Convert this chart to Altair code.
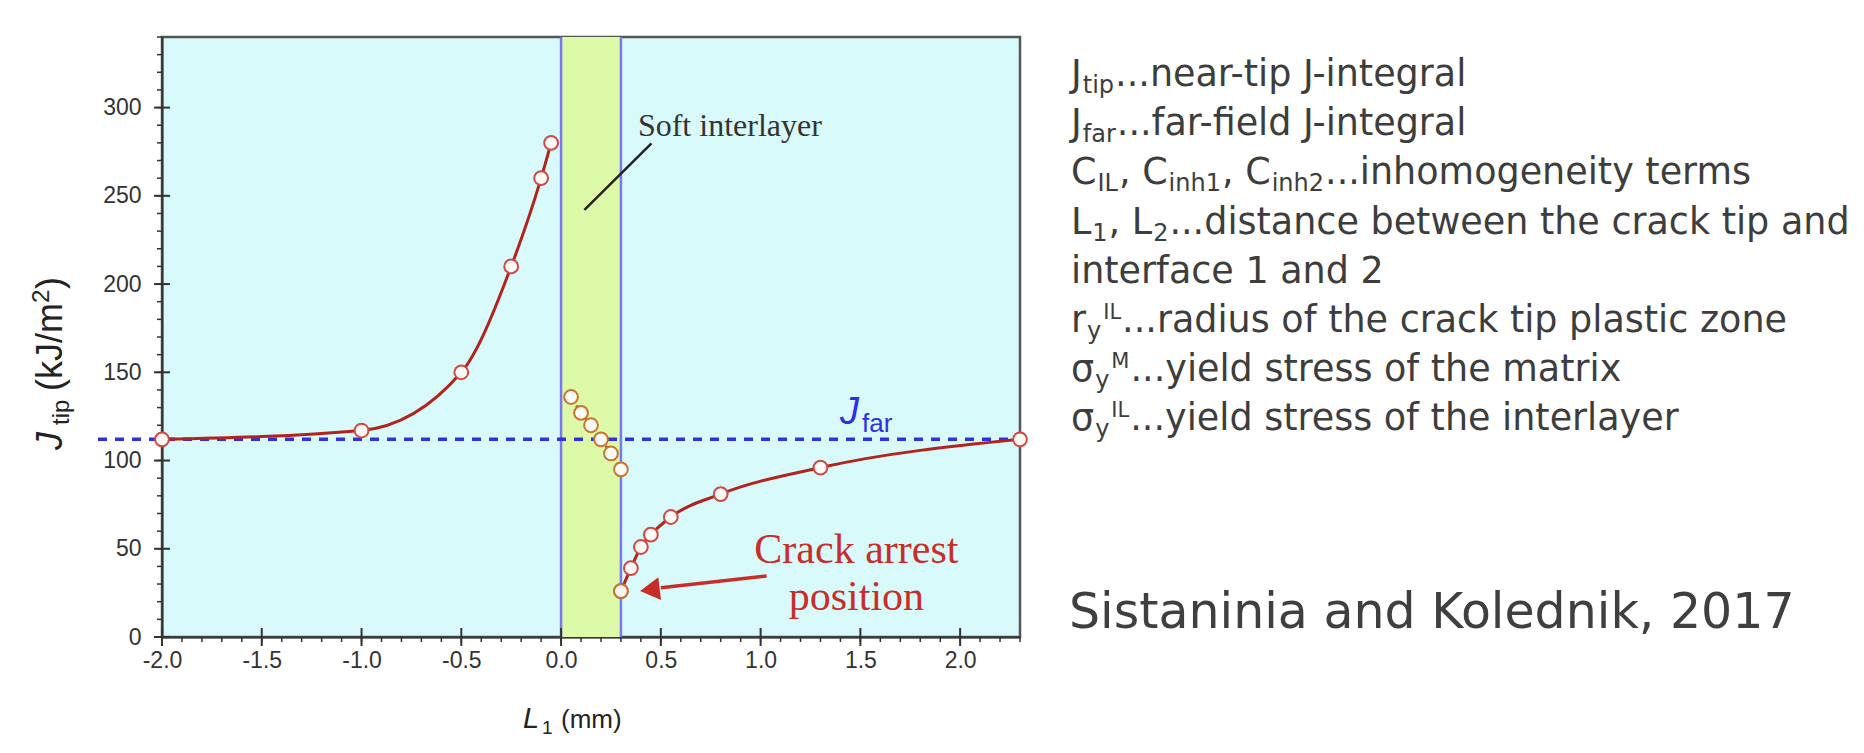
import altair as alt
import pandas as pd

# ---------------- data ----------------
left_L1 = [-2.0, -1.0, -0.5, -0.25, -0.1, -0.05]
left_J = [112, 117, 150, 210, 260, 280]
inter_L1 = [0.05, 0.10, 0.15, 0.20, 0.25, 0.30]
inter_J = [136, 127, 120, 112, 104, 95]
right_L1 = [0.30, 0.35, 0.40, 0.45, 0.55, 0.80, 1.30, 2.30]
right_J = [26, 39, 51, 58, 68, 81, 96, 112]
J_far = 112
interlayer_start = [0.0]
interlayer_end = [0.3]
x_tick_values = [-2.0, -1.5, -1.0, -0.5, 0.0, 0.5, 1.0, 1.5, 2.0]
x_minor_values = [round(-2.0 + 0.1 * i, 1) for i in range(44)]
y_tick_values = [0, 50, 100, 150, 200, 250, 300]
y_minor_values = [10 * i for i in range(35)]

legend_lines = [
    [("J", "m"), ("tip", "sub"), ("...near-tip J-integral", "m")],
    [("J", "m"), ("far", "sub"), ("...far-field J-integral", "m")],
    [("C", "m"), ("IL", "sub"), (", ", "m"), ("C", "m"), ("inh1", "sub"), (", ", "m"),
     ("C", "m"), ("inh2", "sub"), ("...inhomogeneity terms", "m")],
    [("L", "m"), ("1", "sub"), (", ", "m"), ("L", "m"), ("2", "sub"),
     ("...distance between the crack tip and", "m")],
    [("interface 1 and 2", "m")],
    [("r", "m"), ("y", "sub"), ("IL", "sup"), ("...radius of the crack tip plastic zone", "m")],
    [("σ", "m"), ("y", "sub"), ("M", "sup"), ("...yield stress of the matrix", "m")],
    [("σ", "m"), ("y", "sub"), ("IL", "sup"), ("...yield stress of the interlayer", "m")],
]
citation = "Sistaninia and Kolednik, 2017"

# approximate DejaVu Sans advance widths (em) used to lay out sub/superscripts
DV = {" ": .318, ".": .318, ",": .318, "-": .361, "a": .613, "b": .635, "c": .550, "d": .635,
      "e": .615, "f": .352, "g": .635, "h": .634, "i": .278, "j": .278, "k": .579, "l": .278,
      "m": .974, "n": .634, "o": .612, "p": .635, "r": .411, "s": .521, "t": .392, "u": .634,
      "v": .592, "w": .818, "x": .592, "y": .592, "z": .525, "C": .698, "I": .295, "J": .295,
      "L": .557, "M": .863, "σ": .634}


def text_w(s, size):
    return sum(DV.get(ch, 0.636) for ch in s) * size


# ---------------- layout ----------------
W, H = 858, 600
PAD_L, PAD_T, PAD_R, PAD_B = 154, 29, 836, 106
OX, OY = 8 + PAD_L, 8 + PAD_T

xs = alt.Scale(domain=[-2.0, 2.3], nice=False, zero=False)
ys = alt.Scale(domain=[0, 340], nice=False, zero=False)

xaxis = alt.Axis(values=x_tick_values, title=None, grid=False, ticks=False, tickSize=0,
                 labelExpr="replace(format(datum.value, '.1f'), '−', '-')",
                 labelFlush=False, labelOverlap=False,
                 labelFont="Liberation Sans", labelFontSize=23, labelColor="#333333",
                 labelPadding=12, domainColor="#333333", domainWidth=2)
yaxis = alt.Axis(values=y_tick_values, title=None, grid=False, ticks=False, tickSize=0,
                 labelFlush=False,
                 labelFont="Liberation Sans", labelFontSize=23, labelColor="#333333",
                 labelPadding=21, domainColor="#333333", domainWidth=2)


def X(field, **kw):
    return alt.X(field, type="quantitative", scale=xs, axis=xaxis, **kw)


def Y(field, **kw):
    return alt.Y(field, type="quantitative", scale=ys, axis=yaxis, **kw)


def seg(text, xp, yp, size, color="#3d3d3d", font="DejaVu Sans", style="normal",
        angle=0, align="left"):
    return alt.Chart(pd.DataFrame({"t": [text]})).mark_text(
        align=align, baseline="alphabetic", font=font, fontSize=size,
        fontStyle=style, color=color, angle=angle
    ).encode(x=alt.value(xp - OX), y=alt.value(yp - OY), text="t:N")


layers = []

# interlayer band
band = pd.DataFrame({"s": interlayer_start, "e": interlayer_end})
layers.append(alt.Chart(band).mark_rect(color="#dcfaa8").encode(x=X("s"), x2="e"))

# interface lines
iface = pd.DataFrame({"L1": interlayer_start + interlayer_end})
layers.append(alt.Chart(iface).mark_rule(color="#7878f0", strokeWidth=2.5).encode(x=X("L1")))

# J_far dashed line (extends a bit left of the axis)
layers.append(alt.Chart(pd.DataFrame({"J": [J_far]})).mark_rule(
    color="#3030e0", strokeWidth=3.5, strokeDash=[9, 8]
).encode(y=Y("J"), x=alt.value(-64), x2=alt.value(W)))

# ticks crossing the axes
layers.append(alt.Chart(pd.DataFrame({"J": y_minor_values})).mark_rule(
    color="#333333", strokeWidth=1.5).encode(y=Y("J"), x=alt.value(-5), x2=alt.value(0)))
layers.append(alt.Chart(pd.DataFrame({"J": y_tick_values})).mark_rule(
    color="#333333", strokeWidth=2).encode(y=Y("J"), x=alt.value(-8), x2=alt.value(8)))
layers.append(alt.Chart(pd.DataFrame({"L1": x_minor_values})).mark_rule(
    color="#333333", strokeWidth=1.5).encode(x=X("L1"), y=alt.value(H), y2=alt.value(H + 5)))
layers.append(alt.Chart(pd.DataFrame({"L1": x_tick_values})).mark_rule(
    color="#333333", strokeWidth=2).encode(x=X("L1"), y=alt.value(H - 9), y2=alt.value(H + 9)))

# curves
df_left = pd.DataFrame({"L1": left_L1, "J": left_J})
df_int = pd.DataFrame({"L1": inter_L1, "J": inter_J})
df_right = pd.DataFrame({"L1": right_L1, "J": right_J})

red_line = "#b3231d"
red_pt = "#cf4a45"
orange_pt = "#c8762e"

layers.append(alt.Chart(df_left).mark_line(color=red_line, strokeWidth=3, interpolate="monotone")
              .encode(x=X("L1"), y=Y("J")))
layers.append(alt.Chart(df_right).mark_line(color=red_line, strokeWidth=3, interpolate="monotone")
              .encode(x=X("L1"), y=Y("J")))
layers.append(alt.Chart(df_int).mark_line(color="#b4481e", strokeWidth=2.5, strokeDash=[2, 3])
              .encode(x=X("L1"), y=Y("J")))

pt = dict(shape="circle", size=190, fill="#fffaf6", fillOpacity=1, strokeWidth=2, filled=False)
layers.append(alt.Chart(df_left).mark_point(stroke=red_pt, **pt).encode(x=X("L1"), y=Y("J")))
layers.append(alt.Chart(df_right).mark_point(stroke=red_pt, **pt).encode(x=X("L1"), y=Y("J")))
layers.append(alt.Chart(df_int).mark_point(stroke=orange_pt, **pt).encode(x=X("L1"), y=Y("J")))
layers.append(alt.Chart(df_right.head(1)).mark_point(stroke=orange_pt, **pt).encode(x=X("L1"), y=Y("J")))

# "Soft interlayer" annotation
layers.append(alt.Chart(pd.DataFrame({"L1": [0.385], "J": [284], "t": ["Soft interlayer"]})).mark_text(
    align="left", baseline="alphabetic", font="Liberation Serif", fontSize=32, color="#333333"
).encode(x=X("L1"), y=Y("J"), text="t:N"))
layers.append(alt.Chart(pd.DataFrame({"a": [0.453], "b": [0.117], "c": [279.7], "d": [242]})).mark_rule(
    color="#222222", strokeWidth=2.5
).encode(x=X("a"), x2="b", y=Y("c"), y2="d"))

# J_far label
layers.append(seg("J", 840, 424, 38, color="#2f2fe6", font="Liberation Sans", style="italic"))
layers.append(seg("far", 862, 432, 26, color="#2f2fe6", font="Liberation Sans"))

# Crack arrest annotation
crack_red = "#c92d2a"
layers.append(alt.Chart(pd.DataFrame({"L1": [1.48, 1.48], "J": [42.0, 15.5],
                                      "t": ["Crack arrest", "position"]})).mark_text(
    align="center", baseline="alphabetic", font="Liberation Serif", fontSize=42, color=crack_red
).encode(x=X("L1"), y=Y("J"), text="t:N"))
layers.append(alt.Chart(pd.DataFrame({"a": [1.03], "b": [0.50], "c": [34.6], "d": [27.9]})).mark_rule(
    color=crack_red, strokeWidth=3.5
).encode(x=X("a"), x2="b", y=Y("c"), y2="d"))
layers.append(alt.Chart(pd.DataFrame({"L1": [0.445], "J": [26.7]})).mark_point(
    shape="triangle-left", size=520, filled=True, color=crack_red, angle=353, opacity=1
).encode(x=X("L1"), y=Y("J")))

# axis titles
layers.append(seg("J", 62, 450, 36, color="#222222", font="Liberation Sans", style="italic", angle=270))
layers.append(seg("tip", 69, 425, 24, color="#222222", font="Liberation Sans", angle=270))
layers.append(seg("(kJ/m", 62, 391, 36, color="#222222", font="Liberation Sans", angle=270))
layers.append(seg("2", 49, 303, 24, color="#222222", font="Liberation Sans", angle=270))
layers.append(seg(")", 62, 289, 36, color="#222222", font="Liberation Sans", angle=270))

layers.append(seg("L", 523, 728, 29, color="#222222", font="Liberation Sans", style="italic"))
layers.append(seg("1", 542, 734, 19, color="#222222", font="Liberation Sans"))
layers.append(seg("(mm)", 561, 728, 26, color="#222222", font="Liberation Sans"))

# legend text on the right (segments laid out one after another)
MAIN, SUB, SUP = 36.5, 24, 21
base_y = 86
step = 49.2
x0 = 1071
for k, line in enumerate(legend_lines):
    yb = base_y + step * k
    xp = x0
    for txt, kind in line:
        if kind == "m":
            layers.append(seg(txt, xp, yb, MAIN))
            xp += text_w(txt, MAIN)
        elif kind == "sub":
            layers.append(seg(txt, xp + 1, yb + 7, SUB))
            xp += text_w(txt, SUB) + 2
        else:
            layers.append(seg(txt, xp + 1, yb - 13, SUP))
            xp += text_w(txt, SUP) + 2

layers.append(seg(citation, 1069, 628, 49, color="#3f3f3f"))

chart = alt.layer(*layers).properties(
    width=W, height=H,
    autosize=alt.AutoSizeParams(type="none"),
    padding={"left": PAD_L, "top": PAD_T, "right": PAD_R, "bottom": PAD_B},
    background="white",
).configure_view(stroke="#555555", strokeWidth=2.5, fill="#d8fafa")

chart.save("out.html", embed_options={"renderer": "svg", "actions": False})
